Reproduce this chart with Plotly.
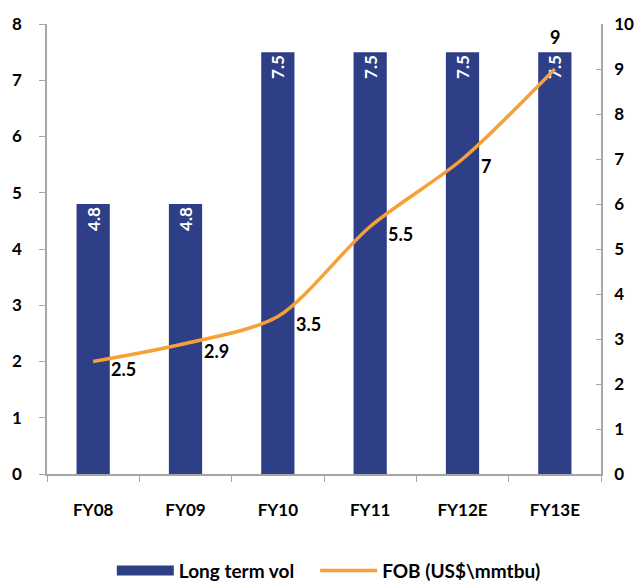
import plotly.graph_objects as go

categories = ["FY08", "FY09", "FY10", "FY11", "FY12E", "FY13E"]
long_term_vol = [4.8, 4.8, 7.5, 7.5, 7.5, 7.5]
fob = [2.5, 2.9, 3.5, 5.5, 7, 9]
fob_labels = ["2.5", "2.9", "3.5", "5.5", "7", "9"]

BAR = "#2E3F87"
ORANGE = "#F7A035"
FONT = "Lato, 'Open Sans', sans-serif"

fig = go.Figure()
fig.add_trace(go.Bar(
    x=categories, y=long_term_vol, name="Long term vol", showlegend=False,
    marker=dict(color=BAR, line=dict(width=0)), width=0.36,
    text=[f"{v}" for v in long_term_vol], textposition="inside",
    insidetextanchor="end", textangle=-90,
    textfont=dict(color="white", size=17, family=FONT, weight="bold"),
))
# legend proxy for the bar series (wide rectangle swatch)
fig.add_trace(go.Scatter(
    x=[None], y=[None], name="Long term vol", mode="lines",
    line=dict(color=BAR, width=12), legend="legend",
))
fig.add_trace(go.Scatter(
    x=categories, y=fob, name="FOB (US$\\mmtbu)", yaxis="y2",
    mode="lines", line=dict(color=ORANGE, width=3.5, shape="spline", smoothing=0.8),
    legend="legend2",
))

for i, (c, v, t) in enumerate(zip(categories, fob, fob_labels)):
    last = i == len(categories) - 1
    fig.add_annotation(
        x=c, y=v, yref="y2", text=f"<b>{t}</b>", showarrow=False,
        xanchor="center" if last else "left",
        xshift=0 if last else 16,
        yshift=32 if last else -7,
        font=dict(size=18, color="black", family=FONT),
    )

axis_font = dict(size=17, color="black", family=FONT, weight="bold")
leg_font = dict(size=19, color="black", family=FONT, weight="bold")
fig.update_layout(
    width=642, height=582,
    margin=dict(l=47, r=41, t=24, b=108, autoexpand=False),
    plot_bgcolor="white", paper_bgcolor="white",
    bargap=0.64,
    showlegend=True,
    legend=dict(orientation="h", x=0.117, xanchor="left", y=-0.215, yanchor="middle",
                font=leg_font, itemwidth=57, bgcolor="rgba(0,0,0,0)"),
    legend2=dict(orientation="h", x=0.484, xanchor="left", y=-0.215, yanchor="middle",
                 font=leg_font, itemwidth=57, bgcolor="rgba(0,0,0,0)"),
    xaxis=dict(showline=True, linecolor="#A6A6A6", linewidth=1.5,
               ticks="outside", tickson="boundaries", ticklen=6, tickcolor="#A6A6A6",
               tickfont=axis_font, ticklabelstandoff=20, showgrid=False),
    yaxis=dict(range=[0, 8], dtick=1, showline=True, linecolor="#A6A6A6", linewidth=1.5,
               ticks="outside", ticklen=6, tickcolor="#A6A6A6", showgrid=False,
               zeroline=False, tickfont=axis_font, ticklabelstandoff=14),
    yaxis2=dict(range=[0, 10], dtick=1, overlaying="y", side="right", showline=True,
                linecolor="#A6A6A6", linewidth=1.5, ticks="inside", ticklen=5,
                tickcolor="#A6A6A6", showgrid=False, zeroline=False,
                tickfont=axis_font, ticklabelstandoff=8),
)

fig.write_html("out.html")
